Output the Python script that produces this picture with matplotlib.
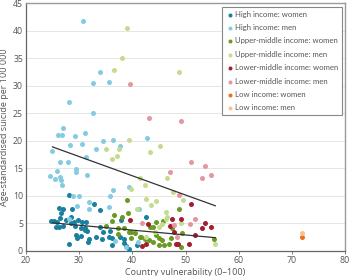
import matplotlib
matplotlib.use('Agg')
import matplotlib.pyplot as plt

plt.rcParams['font.family'] = ['Open Sans', 'DejaVu Sans']

# ---------------- data ----------------

hi_w_x = [28.1, 32.8, 26.2, 26.9, 28.6, 34.0, 26.6, 26.5, 28.4, 24.8, 25.3, 25.8,
          27.5, 29.0, 29.7, 31.3, 30.6, 25.7, 26.2, 27.0, 28.5, 29.2, 31.1, 31.5,
          34.0, 34.5, 35.6, 33.1, 29.6, 30.4, 31.9, 31.7, 28.1, 37.6, 38.4, 38.8,
          39.4, 37.9, 40.9, 42.6, 35.8, 34.3, 36.1, 36.2, 38.4, 30.3, 31.1, 29.5]
hi_w_y = [10.2, 8.5, 7.8, 7.6, 7.7, 7.5, 6.9, 6.0, 6.1, 5.4, 5.5, 5.3,
          5.6, 5.3, 5.6, 5.3, 5.3, 4.3, 4.4, 4.6, 5.0, 4.5, 4.1, 3.6,
          4.4, 3.5, 2.5, 2.6, 2.4, 2.7, 2.1, 1.6, 1.3, 2.6, 1.4, 0.8,
          0.4, 5.6, 1.0, 6.2, 3.7, 2.1, 2.3, 1.1, 2.2, 4.1, 3.8, 2.9]

hi_m_x = [30.7, 33.9, 32.6, 35.7, 28.1, 32.6, 26.9, 26.1, 26.8, 29.3, 31.1, 42.7,
          24.9, 28.3, 30.6, 34.4, 36.3, 33.1, 37.6, 26.4, 28.0, 31.3, 24.6, 25.5,
          25.9, 26.4, 26.6, 26.8, 29.4, 29.4, 31.4, 28.9, 29.6, 31.9, 31.8, 36.3,
          35.8, 39.4, 28.1, 36.7, 38.9, 41.0, 41.2, 35.7, 30.0]
hi_m_y = [41.7, 32.5, 30.5, 30.7, 27.0, 25.0, 22.3, 21.1, 21.1, 20.9, 21.5, 20.5,
          18.2, 19.3, 19.5, 20.0, 20.1, 18.5, 19.1, 16.2, 16.2, 17.0, 13.7, 13.1,
          14.6, 13.5, 12.9, 11.9, 14.9, 14.3, 13.8, 9.9, 8.2, 8.8, 7.6, 11.1,
          9.9, 11.7, 5.8, 1.8, 0.7, 1.6, 7.6, 7.9, 10.0]

um_w_x = [39.0, 36.6, 38.1, 39.1, 35.1, 36.1, 37.3, 38.5, 37.4, 39.3, 39.7, 39.8,
          40.6, 41.6, 42.3, 43.2, 43.9, 45.1, 45.6, 45.9, 45.0, 46.9, 47.3, 44.4,
          44.4, 45.7, 43.3, 43.9, 48.8, 49.4, 49.1, 55.4, 47.5, 41.4]
um_w_y = [9.3, 6.5, 6.2, 6.9, 4.6, 5.5, 4.2, 4.2, 3.0, 3.4, 2.3, 3.5,
          3.2, 2.5, 2.2, 2.0, 1.7, 2.3, 2.0, 1.1, 1.1, 1.2, 2.3, 2.9,
          5.3, 5.5, 4.3, 4.3, 7.6, 3.3, 0.7, 2.2, 4.1, 2.6]

um_m_x = [39.0, 38.1, 36.6, 48.7, 39.4, 35.0, 37.5, 37.1, 36.1, 43.4, 45.3, 41.4,
          46.5, 42.3, 39.8, 42.6, 43.6, 40.8, 44.5, 46.3, 46.6, 45.6, 49.6, 47.6,
          49.2, 55.5, 45.0, 42.6, 46.4, 44.2]
um_m_y = [40.6, 35.1, 32.8, 32.6, 20.2, 18.6, 18.5, 17.3, 16.7, 18.0, 19.1, 13.3,
          13.2, 11.9, 11.2, 9.5, 8.4, 7.6, 9.0, 7.0, 6.2, 4.8, 9.3, 10.7,
          5.0, 1.3, 4.4, 2.6, 5.8, 3.5]

lm_w_x = [51.0, 49.2, 53.7, 53.1, 54.7, 51.7, 48.3, 48.6, 50.6, 47.9, 47.4, 42.9,
          47.1, 41.8, 42.6, 39.6]
lm_w_y = [8.6, 5.8, 5.1, 4.2, 4.4, 2.9, 1.3, 1.3, 1.3, 3.5, 5.8, 4.9,
          4.6, 0.9, 1.2, 5.6]

lm_m_x = [39.6, 43.1, 49.1, 51.0, 53.7, 53.1, 54.7, 47.1, 48.7, 51.7, 50.8, 48.4,
          47.9, 41.9]
lm_m_y = [30.4, 24.1, 23.6, 16.2, 15.5, 13.3, 13.8, 14.3, 10.1, 5.8, 4.9, 2.5,
          4.7, 5.0]

lo_w_x = [71.9]
lo_w_y = [2.5]
lo_m_x = [71.9]
lo_m_y = [3.3]

# fitted lines (end points)
trend_x = [25.0, 55.6]
men_trend = [18.9, 8.2]
women_trend = [5.1, 2.4]

groups = [
    ('High income: women', hi_w_x, hi_w_y, '#1b7f9f'),
    ('High income: men', hi_m_x, hi_m_y, '#84cce2'),
    ('Upper-middle income: women', um_w_x, um_w_y, '#6b9a24'),
    ('Upper-middle income: men', um_m_x, um_m_y, '#c4dc90'),
    ('Lower-middle income: women', lm_w_x, lm_w_y, '#a31f30'),
    ('Lower-middle income: men', lm_m_x, lm_m_y, '#e3979e'),
    ('Low income: women', lo_w_x, lo_w_y, '#e8731e'),
    ('Low income: men', lo_m_x, lo_m_y, '#f8c290'),
]

# ---------------- plot ----------------

fig = plt.figure(figsize=(3.5, 2.76), dpi=100)
ax = fig.add_axes([0.074, 0.091, 0.912, 0.897])

for label, xs, ys, color in groups:
    ax.scatter(xs, ys, s=13, color=color, label=label, linewidths=0, zorder=3)

ax.plot(trend_x, men_trend, color='#333333', linewidth=0.9, zorder=4)
ax.plot(trend_x, women_trend, color='#333333', linewidth=0.9, zorder=4)

ax.set_xlim(20, 80)
ax.set_ylim(0, 45)
ax.set_xticks(range(20, 81, 10))
ax.set_yticks(range(0, 46, 5))
ax.yaxis.grid(True, color='#e6e6e6', linewidth=0.7)
ax.set_axisbelow(True)

for side in ['top', 'right']:
    ax.spines[side].set_color('#9a9a9a')
    ax.spines[side].set_linewidth(1.0)
for side in ['left', 'bottom']:
    ax.spines[side].set_color('#666666')
    ax.spines[side].set_linewidth(0.9)

ax.tick_params(axis='both', labelsize=6.3, colors='#666666', labelcolor='#555555',
               length=2, width=0.6, pad=2)
ax.tick_params(axis='y', length=0)

ax.set_xlabel('Country vulnerability (0\u2013100)', fontsize=6.5, color='#555555', labelpad=2)
ax.set_ylabel('Age-standardised suicide per 100 000', fontsize=6.5, color='#555555', labelpad=3)

leg = ax.legend(loc='upper right', bbox_to_anchor=(0.99, 0.986), borderaxespad=0,
                prop={'family': ['Lato', 'DejaVu Sans'], 'size': 5.6},
                frameon=True, fancybox=False, edgecolor='#888888', framealpha=1,
                handletextpad=0.1, labelspacing=0.82, borderpad=0.5,
                handlelength=1.1, markerscale=0.8)
leg.get_frame().set_linewidth(0.8)
for t in leg.get_texts():
    t.set_color('#555555')

plt.savefig('out.png', dpi=100)
